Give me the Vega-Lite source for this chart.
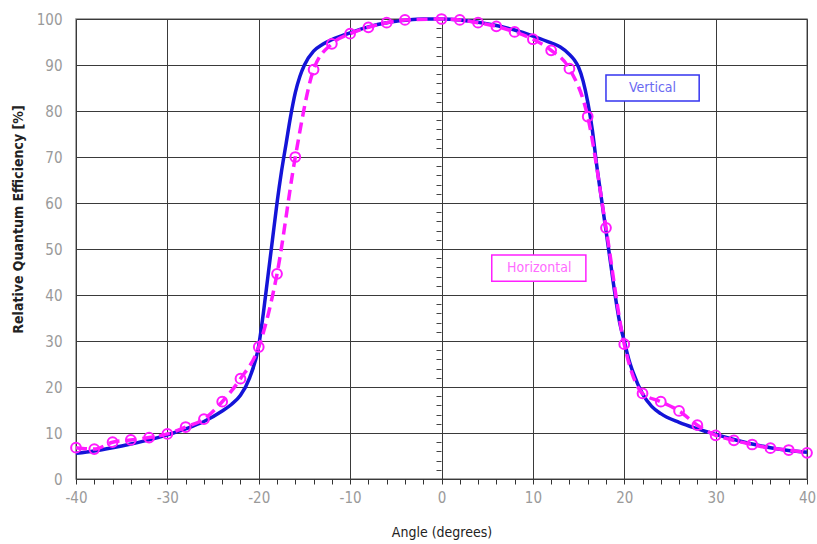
{
  "$schema": "https://vega.github.io/schema/vega-lite/v6.json",
  "width": 731,
  "height": 460,
  "autosize": {"type": "none"},
  "padding": {"left": 76, "top": 19, "right": 10, "bottom": 65},
  "background": "white",
  "config": {
    "view": {"stroke": "#8a8a8a", "strokeWidth": 1.5},
    "axis": {
      "labelFont": "DejaVu Sans Condensed",
      "labelColor": "#9a9a9a",
      "labelFontSize": 15,
      "gridColor": "#3a3a3a",
      "gridOpacity": 1,
      "gridWidth": 1,
      "domain": false,
      "tickColor": "#333",
      "tickWidth": 1
    }
  },
  "datasets": {
    "vertical": [
      {"angle": -40, "qe": 5.6}, {"angle": -38, "qe": 6.1}, {"angle": -36, "qe": 6.8}, {"angle": -34, "qe": 7.6},
      {"angle": -32, "qe": 8.5}, {"angle": -30, "qe": 9.6}, {"angle": -28, "qe": 10.9}, {"angle": -26, "qe": 12.5},
      {"angle": -24, "qe": 14.8}, {"angle": -23, "qe": 16.2}, {"angle": -22, "qe": 18.2}, {"angle": -21, "qe": 22},
      {"angle": -20, "qe": 29}, {"angle": -19.5, "qe": 36}, {"angle": -19, "qe": 44}, {"angle": -18.5, "qe": 52},
      {"angle": -18, "qe": 60}, {"angle": -17.5, "qe": 67}, {"angle": -17, "qe": 73}, {"angle": -16.5, "qe": 79},
      {"angle": -16, "qe": 84}, {"angle": -15.5, "qe": 87.5}, {"angle": -15, "qe": 90}, {"angle": -14, "qe": 93},
      {"angle": -13, "qe": 94.5}, {"angle": -12, "qe": 95.5}, {"angle": -10, "qe": 97}, {"angle": -8, "qe": 98.3},
      {"angle": -6, "qe": 99.2}, {"angle": -4, "qe": 99.7}, {"angle": -2, "qe": 100}, {"angle": 0, "qe": 100},
      {"angle": 2, "qe": 99.8}, {"angle": 4, "qe": 99.3}, {"angle": 6, "qe": 98.6}, {"angle": 8, "qe": 97.6},
      {"angle": 10, "qe": 96.3}, {"angle": 12, "qe": 94.8}, {"angle": 13, "qe": 93.9}, {"angle": 14, "qe": 92.3},
      {"angle": 14.5, "qe": 91.2}, {"angle": 15, "qe": 89.5}, {"angle": 15.5, "qe": 86.5}, {"angle": 16, "qe": 82},
      {"angle": 16.5, "qe": 76}, {"angle": 17, "qe": 68}, {"angle": 17.5, "qe": 61}, {"angle": 18, "qe": 54},
      {"angle": 18.5, "qe": 47}, {"angle": 19, "qe": 40}, {"angle": 19.5, "qe": 34}, {"angle": 20, "qe": 30},
      {"angle": 20.5, "qe": 26}, {"angle": 21, "qe": 23}, {"angle": 22, "qe": 18.5}, {"angle": 23, "qe": 15.8},
      {"angle": 24, "qe": 14.2}, {"angle": 26, "qe": 12.3}, {"angle": 28, "qe": 10.9}, {"angle": 30, "qe": 9.7},
      {"angle": 32, "qe": 8.6}, {"angle": 34, "qe": 7.6}, {"angle": 36, "qe": 6.8}, {"angle": 38, "qe": 6.2},
      {"angle": 40, "qe": 5.8}
    ],
    "horizontal": [
      {"angle": -40, "qe": 6.8}, {"angle": -38, "qe": 6.5}, {"angle": -36, "qe": 8}, {"angle": -34, "qe": 8.5},
      {"angle": -32, "qe": 9}, {"angle": -30, "qe": 9.8}, {"angle": -28, "qe": 11.3}, {"angle": -26, "qe": 13},
      {"angle": -24, "qe": 16.8}, {"angle": -22, "qe": 21.8}, {"angle": -20, "qe": 28.7}, {"angle": -18, "qe": 44.6},
      {"angle": -16, "qe": 70}, {"angle": -14, "qe": 89}, {"angle": -12, "qe": 94.6}, {"angle": -10, "qe": 96.8},
      {"angle": -8, "qe": 98.2}, {"angle": -6, "qe": 99.2}, {"angle": -4, "qe": 99.8}, {"angle": 0, "qe": 100},
      {"angle": 2, "qe": 99.8}, {"angle": 4, "qe": 99.2}, {"angle": 6, "qe": 98.4}, {"angle": 8, "qe": 97.2},
      {"angle": 10, "qe": 95.6}, {"angle": 12, "qe": 93.2}, {"angle": 14, "qe": 89.2}, {"angle": 16, "qe": 78.8},
      {"angle": 18, "qe": 54.6}, {"angle": 20, "qe": 29.3}, {"angle": 22, "qe": 18.6}, {"angle": 24, "qe": 16.8},
      {"angle": 26, "qe": 14.8}, {"angle": 28, "qe": 11.7}, {"angle": 30, "qe": 9.5}, {"angle": 32, "qe": 8.4},
      {"angle": 34, "qe": 7.5}, {"angle": 36, "qe": 6.7}, {"angle": 38, "qe": 6.3}, {"angle": 40, "qe": 5.7}
    ],
    "labels": [
      {"series": "Vertical", "tx": 23.1, "ty": 85, "bx1": 18, "bx2": 28.2, "by1": 82.2, "by2": 87.8},
      {"series": "Horizontal", "tx": 10.7, "ty": 45.9, "bx1": 5.5, "bx2": 15.8, "by1": 43, "by2": 48.7}
    ]
  },
  "resolve": {"axis": {"x": "independent", "y": "independent"}},
  "layer": [
    {
      "data": {"name": "labels"},
      "mark": {"type": "rect", "fill": "white", "strokeWidth": 1.5},
      "encoding": {
        "x": {"field": "bx1", "type": "quantitative", "scale": {"domain": [-40, 40], "nice": false}, "axis": null},
        "x2": {"field": "bx2"},
        "y": {"field": "by1", "type": "quantitative", "scale": {"domain": [0, 100], "nice": false}, "axis": null},
        "y2": {"field": "by2"},
        "stroke": {"field": "series", "type": "nominal", "scale": {"domain": ["Vertical", "Horizontal"], "range": ["#3535f0", "#ff20ff"]}, "legend": null}
      }
    },
    {
      "data": {"name": "vertical"},
      "mark": {"type": "line", "color": "#1414d8", "strokeWidth": 3.5, "interpolate": "monotone"},
      "encoding": {
        "x": {"field": "angle", "type": "quantitative", "scale": {"domain": [-40, 40], "nice": false},
          "axis": {"orient": "bottom", "values": [-40, -38, -36, -34, -32, -30, -28, -26, -24, -22, -20, -18, -16, -14, -12, -10, -8, -6, -4, -2, 0, 2, 4, 6, 8, 10, 12, 14, 16, 18, 20, 22, 24, 26, 28, 30, 32, 34, 36, 38, 40],
            "labelExpr": "datum.value % 10 === 0 ? '' + datum.value : ''",
            "labelFlush": false, "labelOverlap": false,
            "grid": true,
            "gridOpacity": {"condition": {"test": "datum.value % 10 === 0", "value": 1}, "value": 0},
            "ticks": true, "tickSize": 5, "labelPadding": 6, "title": "Angle (degrees)", "titleFont": "DejaVu Sans Condensed", "titleFontSize": 14, "titleFontWeight": "normal", "titleColor": "#222", "titlePadding": 20}},
        "y": {"field": "qe", "type": "quantitative", "scale": {"domain": [0, 100], "nice": false},
          "axis": {"orient": "left", "values": [0, 10, 20, 30, 40, 50, 60, 70, 80, 90, 100], "grid": true, "ticks": false, "labelPadding": 14, "title": "Relative Quantum Efficiency [%]", "titleFont": "DejaVu Sans Condensed", "titleFontSize": 14, "titleFontWeight": "bold", "titleColor": "#222", "titlePadding": 11, "titleY": 200}}
      }
    },
    {
      "data": {"name": "horizontal"},
      "mark": {"type": "line", "color": "#ff1aff", "strokeWidth": 3.5, "strokeDash": [11, 6], "interpolate": "monotone"},
      "encoding": {
        "x": {"field": "angle", "type": "quantitative", "axis": null},
        "y": {"field": "qe", "type": "quantitative", "axis": null}
      }
    },
    {
      "data": {"name": "horizontal"},
      "mark": {"type": "point", "shape": "circle", "color": "#ff1aff", "filled": false, "strokeWidth": 2, "size": 95, "opacity": 1},
      "encoding": {
        "x": {"field": "angle", "type": "quantitative", "axis": null},
        "y": {"field": "qe", "type": "quantitative",
          "axis": {"orient": "left", "offset": -365, "values": [2, 4, 6, 8, 12, 14, 16, 18, 22, 24, 26, 28, 32, 34, 36, 38, 42, 44, 46, 48, 52, 54, 56, 58, 62, 64, 66, 68, 72, 74, 76, 78, 82, 84, 86, 88, 92, 94, 96, 98], "grid": false, "labels": false, "ticks": true, "tickSize": 5, "tickColor": "#444", "title": null}}
      }
    },
    {
      "data": {"name": "labels"},
      "mark": {"type": "text", "font": "DejaVu Sans Condensed", "fontSize": 14, "align": "center", "baseline": "middle"},
      "encoding": {
        "x": {"field": "tx", "type": "quantitative", "axis": null},
        "y": {"field": "ty", "type": "quantitative", "axis": null},
        "text": {"field": "series"},
        "color": {"field": "series", "type": "nominal", "scale": {"domain": ["Vertical", "Horizontal"], "range": ["#6a6af2", "#ff6cff"]}, "legend": null}
      }
    }
  ]
}
